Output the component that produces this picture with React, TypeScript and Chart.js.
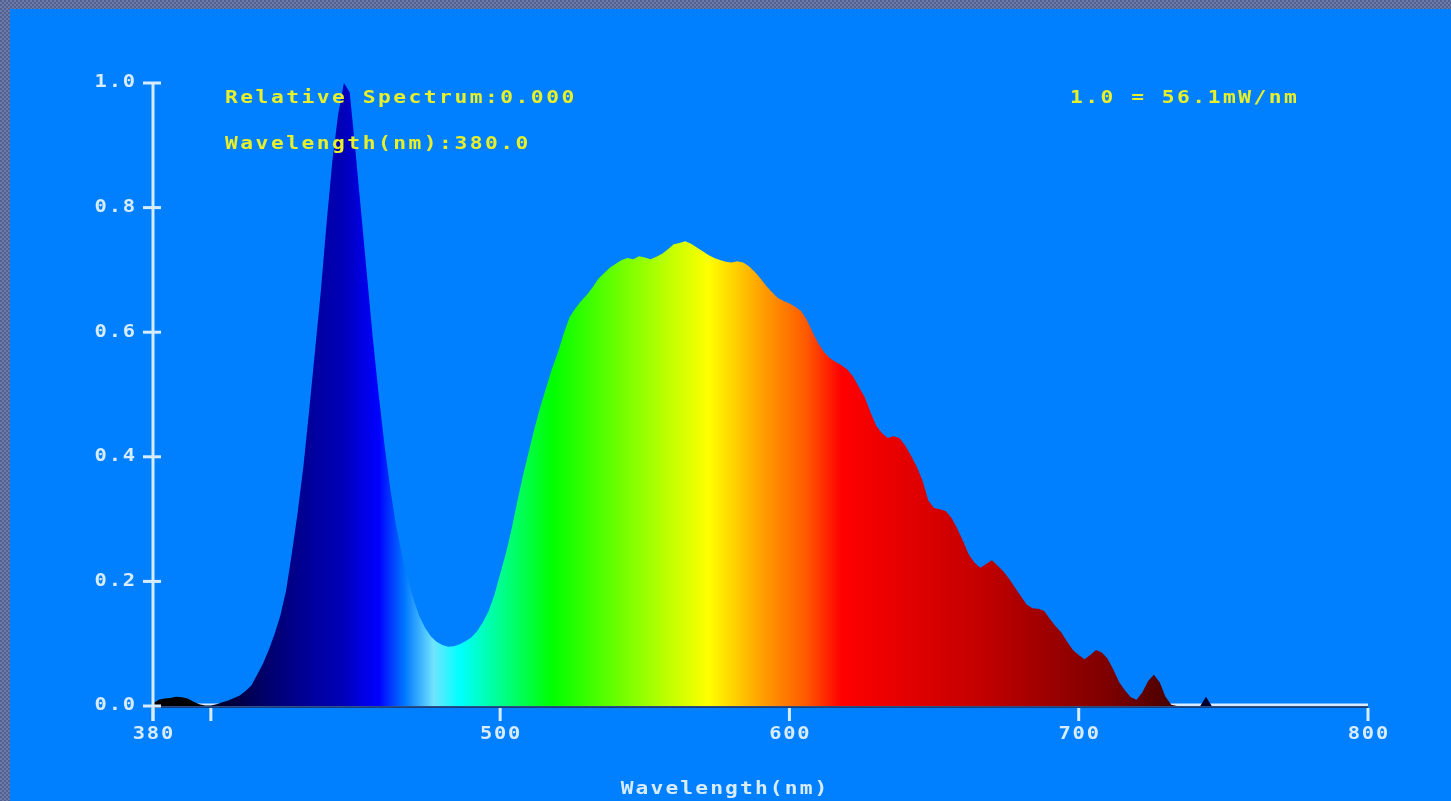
import React, { useEffect, useRef } from 'react';
import { Chart, registerables } from 'chart.js';

Chart.register(...registerables);

// ---- data ----
const WAVELENGTH_START = 380;
const WAVELENGTH_STEP = 2;

// 380 .. 500 nm (blue LED peak and valley)
const blueRegion = [
  0.004, 0.010, 0.012, 0.013, 0.015, 0.014, 0.012, 0.007, 0.003, 0.001,
  0.001, 0.003, 0.006, 0.009, 0.013, 0.017, 0.024, 0.033, 0.050, 0.068,
  0.090, 0.115, 0.145, 0.185, 0.245, 0.310, 0.385, 0.475, 0.570, 0.665,
  0.775, 0.875, 0.950, 1.000, 0.985, 0.890, 0.790, 0.690, 0.590, 0.500,
  0.420, 0.350, 0.290, 0.245, 0.205, 0.172, 0.145, 0.126, 0.112, 0.103,
  0.098, 0.095, 0.096, 0.099, 0.104, 0.110, 0.120, 0.134, 0.152, 0.178,
  0.212,
];

// 502 .. 740 nm (phosphor band)
const phosphorRegion = [
  0.245, 0.285, 0.330, 0.372, 0.410, 0.448, 0.482, 0.512, 0.542, 0.568,
  0.598, 0.624, 0.638, 0.650, 0.660, 0.672, 0.686, 0.695, 0.704, 0.710,
  0.716, 0.719, 0.717, 0.722, 0.720, 0.717, 0.721, 0.726, 0.733, 0.741,
  0.743, 0.746, 0.742, 0.736, 0.730, 0.724, 0.719, 0.716, 0.713, 0.712,
  0.714, 0.712, 0.706, 0.697, 0.686, 0.674, 0.664, 0.655, 0.650, 0.646,
  0.641, 0.634, 0.620, 0.600, 0.582, 0.568, 0.558, 0.552, 0.547, 0.540,
  0.529, 0.512, 0.496, 0.472, 0.450, 0.438, 0.430, 0.433, 0.430, 0.418,
  0.402, 0.384, 0.362, 0.330, 0.318, 0.316, 0.313, 0.302, 0.285, 0.265,
  0.243, 0.230, 0.222, 0.228, 0.234, 0.225, 0.216, 0.204, 0.190, 0.176,
  0.163, 0.157, 0.156, 0.153, 0.140, 0.128, 0.118, 0.103, 0.090, 0.082,
  0.075, 0.082, 0.090, 0.086, 0.076, 0.058, 0.038, 0.025, 0.014, 0.010,
  0.022, 0.040, 0.050, 0.038, 0.015, 0.002, 0, 0, 0, 0,
];

// 742 .. 800 nm (near infrared tail)
const tailRegion = [
  0, 0.015, 0, 0, 0, 0, 0, 0, 0, 0,
  0, 0, 0, 0, 0, 0, 0, 0, 0, 0,
  0, 0, 0, 0, 0, 0, 0, 0, 0, 0,
];

const relativeSpectrum = [...blueRegion, ...phosphorRegion, ...tailRegion];
const wavelengths = relativeSpectrum.map((_, i) => WAVELENGTH_START + WAVELENGTH_STEP * i);

const xTickValues = [380, 400, 500, 600, 700, 800];
const xTickLabels = ['380', '', '500', '600', '700', '800'];
const yTickValues = [0, 0.2, 0.4, 0.6, 0.8, 1.0];

const readoutLines = ['Relative Spectrum:0.000', 'Wavelength(nm):380.0'];
const scaleNote = '1.0 = 56.1mW/nm';
const xAxisTitle = 'Wavelength(nm)';

// spectral colour ramp used for the fill
const colorStopNm = [380, 396, 402, 418, 436, 446, 452, 458, 467, 477, 486, 500, 518, 545, 560, 572, 592, 606, 618, 640, 665, 690, 712, 732, 738, 800];
const colorStopHex = [
  '#000000', '#000000', '#000028', '#000068', '#0000a0', '#0000b8', '#0000e0', '#0000ff',
  '#0078ff', '#70e4ff', '#00ffff', '#00ff90', '#00ff00', '#80ff00', '#c8ff00', '#ffff00',
  '#ff9800', '#ff5800', '#ff0000', '#e40000', '#c40000', '#9c0000', '#7a0000', '#480000',
  '#000030', '#000020',
];

const AXIS_COLOR = '#d8ecff';
const TEXT_YELLOW = '#e8f02a';
const MONO = '"DejaVu Sans Mono", "Liberation Mono", monospace';

function drawWideText(
  ctx: CanvasRenderingContext2D,
  text: string,
  x: number,
  y: number,
  align: 'left' | 'center' | 'right',
  sx: number,
  spacing: number,
) {
  ctx.save();
  ctx.translate(x, y);
  ctx.scale(sx, 1);
  (ctx as any).letterSpacing = `${spacing}px`;
  ctx.textAlign = 'left';
  ctx.textBaseline = 'middle';
  const w = ctx.measureText(text).width - spacing;
  let ox = 0;
  if (align === 'center') ox = -w / 2;
  else if (align === 'right') ox = -w;
  ctx.fillText(text, ox, 0);
  ctx.restore();
}

const decorPlugin = {
  id: 'decor',
  beforeDatasetsDraw(chart: any) {
    const { ctx } = chart;
    const { x, y } = chart.scales;
    const y0 = y.getPixelForValue(0);
    ctx.save();
    ctx.strokeStyle = AXIS_COLOR;
    ctx.lineWidth = 3;
    ctx.beginPath();
    ctx.moveTo(x.getPixelForValue(380), y0 - 1);
    ctx.lineTo(x.getPixelForValue(800), y0 - 1);
    ctx.stroke();
    ctx.restore();
  },
  afterDatasetsDraw(chart: any) {
    const { ctx } = chart;
    const { x, y } = chart.scales;
    const y0 = y.getPixelForValue(0);
    const xl = x.getPixelForValue(380);
    ctx.save();
    // dark baseline under the fill
    ctx.strokeStyle = '#1a2c5a';
    ctx.lineWidth = 1.5;
    ctx.beginPath();
    ctx.moveTo(xl, y0 + 1);
    ctx.lineTo(x.getPixelForValue(800), y0 + 1);
    ctx.stroke();

    ctx.strokeStyle = AXIS_COLOR;
    ctx.lineWidth = 3;
    // y axis line
    ctx.beginPath();
    ctx.moveTo(xl, y.getPixelForValue(1) - 1);
    ctx.lineTo(xl, y0 + 15);
    ctx.stroke();
    // y tick marks
    yTickValues.forEach((v) => {
      const py = y.getPixelForValue(v);
      ctx.beginPath();
      ctx.moveTo(xl - 10, py);
      ctx.lineTo(xl + 8, py);
      ctx.stroke();
    });
    // x tick marks
    xTickValues.forEach((v) => {
      const px = x.getPixelForValue(v);
      ctx.beginPath();
      ctx.moveTo(px, y0 + 2);
      ctx.lineTo(px, y0 + 15);
      ctx.stroke();
    });
    ctx.restore();
  },
  afterDraw(chart: any) {
    const { ctx, chartArea } = chart;
    const { x, y } = chart.scales;
    const y0 = y.getPixelForValue(0);
    const xl = x.getPixelForValue(380);
    ctx.save();
    ctx.font = `bold 17px ${MONO}`;
    // tick labels
    ctx.fillStyle = AXIS_COLOR;
    y.ticks.forEach((t: any) => {
      drawWideText(ctx, Number(t.value).toFixed(1), xl - 18, y.getPixelForValue(t.value), 'right', 1.2, 1.5);
    });
    x.ticks.forEach((t: any) => {
      const i = xTickValues.indexOf(Number(t.value));
      const label = i >= 0 ? xTickLabels[i] : '';
      if (label) drawWideText(ctx, label, x.getPixelForValue(t.value), y0 + 29, 'center', 1.2, 1.5);
    });
    // axis title
    drawWideText(ctx, xAxisTitle, 724, chartArea.bottom + 84, 'center', 1.25, 1.7);
    // readouts
    ctx.fillStyle = TEXT_YELLOW;
    drawWideText(ctx, readoutLines[0], chartArea.left + 72, chartArea.top + 16, 'left', 1.25, 2);
    drawWideText(ctx, readoutLines[1], chartArea.left + 72, chartArea.top + 62, 'left', 1.25, 2);
    drawWideText(ctx, scaleNote, chartArea.left + 917, chartArea.top + 16, 'left', 1.25, 2);
    ctx.restore();
  },
};

function spectrumFill(context: any) {
  const chart = context.chart;
  const { chartArea, scales } = chart;
  if (!chartArea || !scales.x) return 'rgba(0,0,0,0)';
  const xs = scales.x;
  const x0 = xs.getPixelForValue(colorStopNm[0]);
  const x1 = xs.getPixelForValue(colorStopNm[colorStopNm.length - 1]);
  const g = chart.ctx.createLinearGradient(x0, 0, x1, 0);
  colorStopNm.forEach((nm, i) => {
    const t = (xs.getPixelForValue(nm) - x0) / (x1 - x0);
    g.addColorStop(Math.min(1, Math.max(0, t)), colorStopHex[i]);
  });
  return g;
}

export default function App() {
  const canvasRef = useRef<HTMLCanvasElement | null>(null);

  useEffect(() => {
    document.body.style.margin = '0';
    const canvas = canvasRef.current;
    if (!canvas) return;
    const chart = new Chart(canvas, {
      type: 'line',
      data: {
        datasets: [
          {
            data: wavelengths.map((w, i) => ({ x: w, y: relativeSpectrum[i] })),
            fill: 'origin',
            backgroundColor: spectrumFill,
            borderWidth: 0,
            borderColor: 'rgba(0,0,0,0)',
            pointRadius: 0,
            tension: 0,
          },
        ],
      },
      options: {
        responsive: false,
        animation: false,
        events: [],
        layout: { padding: { left: 0, top: 83, right: 83, bottom: 0 } },
        plugins: {
          legend: { display: false },
          tooltip: { enabled: false },
          title: { display: false },
        },
        scales: {
          x: {
            type: 'linear',
            min: 380,
            max: 800,
            afterFit: (s: any) => { s.height = 95; },
            afterBuildTicks: (s: any) => { s.ticks = xTickValues.map((v) => ({ value: v })); },
            grid: { display: false, drawTicks: false },
            border: { display: false },
            ticks: { display: false, autoSkip: false, maxRotation: 0 },
          },
          y: {
            type: 'linear',
            min: 0,
            max: 1,
            afterFit: (s: any) => { s.width = 153; },
            afterBuildTicks: (s: any) => { s.ticks = yTickValues.map((v) => ({ value: v })); },
            grid: { display: false, drawTicks: false },
            border: { display: false },
            ticks: { display: false },
          },
        },
      },
      plugins: [decorPlugin],
    } as any);
    return () => chart.destroy();
  }, []);

  return (
    <div
      style={{
        position: 'absolute',
        left: 0,
        top: 0,
        width: 1451,
        height: 801,
        overflow: 'hidden',
        backgroundColor: '#5e6e9e',
        backgroundImage: 'repeating-conic-gradient(#6c7caa 0% 25%, #52618f 0% 50%)',
        backgroundSize: '4px 4px',
      }}
    >
      <div
        style={{
          position: 'absolute',
          left: 10,
          top: 9,
          right: 0,
          bottom: 0,
          background: '#0080ff',
        }}
      />
      <canvas
        ref={canvasRef}
        width={1451}
        height={801}
        style={{ position: 'absolute', left: 0, top: 0, width: 1451, height: 801 }}
      />
    </div>
  );
}
